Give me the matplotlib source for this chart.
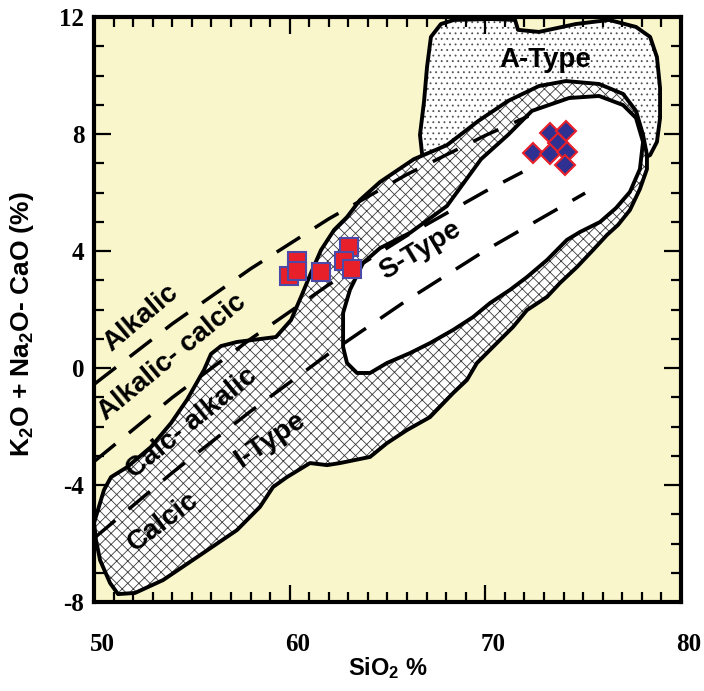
import numpy as np
import matplotlib
matplotlib.use('Agg')
import matplotlib.pyplot as plt
import matplotlib.transforms as mtransforms
from matplotlib.patches import Polygon
from matplotlib.ticker import MultipleLocator

# ---------------- data ----------------
# I-type field (cross-hatched envelope)
itype_x = [50.0, 50.51, 50.87, 51.69, 52.91, 53.94, 54.75, 55.62, 55.98, 56.49, 57.31, 59.30,
           60.07, 60.58, 61.09, 61.60, 62.27, 62.93, 63.59, 64.62, 66.35, 68.04, 69.63, 71.16,
           72.74, 74.12, 75.81, 77.04, 77.70, 78.06, 78.26, 78.26, 77.90, 77.39, 76.78, 76.22,
           75.50, 74.68, 73.82, 73.15, 72.13, 71.41, 70.39, 69.57, 69.06, 68.35, 67.17, 66.00,
           64.97, 64.11, 62.57, 61.91, 61.04, 59.86, 59.15, 58.48, 57.31, 55.57, 53.53, 52.10,
           51.23, 50.82, 50.31, 50.10]
itype_y = [-5.30, -4.17, -3.73, -3.39, -2.70, -1.88, -1.09, -0.07, 0.48, 0.75, 0.89, 1.06,
           1.64, 2.43, 3.25, 4.03, 4.72, 5.16, 5.74, 6.36, 7.14, 7.62, 8.44, 9.13,
           9.64, 9.81, 9.71, 9.37, 8.79, 7.97, 7.28, 6.80, 6.12, 5.40, 4.89, 4.55,
           4.03, 3.45, 2.91, 2.43, 1.98, 1.40, 0.72, 0.17, -0.41, -0.86, -1.68, -2.12,
           -2.57, -3.04, -3.25, -3.32, -3.25, -3.73, -4.07, -4.75, -5.54, -6.33, -7.25, -7.69,
           -7.73, -7.35, -6.57, -5.88]

# A-type field (dotted)
atype_x = [67.22, 67.73, 68.40, 70.29, 71.52, 71.67, 72.74, 74.63, 76.32, 77.70, 78.42, 78.77,
           78.93, 78.93, 78.77, 78.42, 77.90, 76.90, 71.80, 66.90, 66.87, 66.66, 66.87, 67.02]
atype_y = [11.32, 11.76, 11.90, 11.93, 11.90, 11.56, 11.49, 11.76, 11.90, 11.66, 11.32, 10.63,
           9.57, 8.55, 7.73, 7.28, 7.10, 7.45, 7.45, 6.60, 6.70, 7.97, 9.13, 10.29]

# S-type field (white)
stype_x = [63.75, 63.08, 62.73, 62.73, 62.93, 63.44, 64.11, 64.97, 66.15, 67.17, 68.35, 69.37,
           70.24, 71.26, 72.13, 73.15, 74.17, 74.84, 75.86, 76.68, 77.39, 77.90, 78.06, 77.70,
           77.04, 75.81, 74.28, 72.38, 71.16, 69.78, 68.04, 66.15, 64.62]
stype_y = [3.59, 2.67, 1.88, 0.72, 0.17, -0.17, -0.17, 0.17, 0.51, 0.85, 1.30, 1.74,
           2.22, 2.67, 3.11, 3.69, 4.38, 4.65, 4.99, 5.47, 6.02, 6.80, 7.73, 8.55,
           8.99, 9.30, 9.23, 8.79, 7.97, 7.14, 5.54, 4.62, 4.10]

# MALI boundaries (dashed)
alk_x = [50, 54, 58, 62, 66, 70, 72.2]
alk_y = [-0.56, 1.51, 3.39, 5.10, 6.62, 7.95, 8.61]
alkcal_x = [50, 54, 58, 62, 66, 70, 71.9]
alkcal_y = [-3.20, -1.01, 0.99, 2.85, 4.53, 6.04, 6.70]
calcalk_x = [50, 54, 58, 62, 66, 70, 75.1]
calcalk_y = [-5.82, -3.58, -1.48, 0.49, 2.32, 4.02, 5.98]

# samples
sq_x = [59.97, 60.38, 60.38, 61.60, 63.03, 62.78, 63.19]
sq_y = [3.14, 3.66, 3.32, 3.28, 4.14, 3.66, 3.38]
dm_x = [72.44, 73.30, 74.12, 73.71, 73.30, 74.17, 74.07]
dm_y = [7.35, 8.03, 8.10, 7.69, 7.32, 7.38, 6.94]

xticks = [50, 60, 70, 80]
yticks = [-8, -4, 0, 4, 8, 12]

# ---------------- figure ----------------
plt.rcParams['hatch.linewidth'] = 0.6
plt.rcParams['axes.unicode_minus'] = False
plt.rcParams['mathtext.fontset'] = 'custom'
plt.rcParams['mathtext.rm'] = 'Liberation Sans:bold'
plt.rcParams['mathtext.default'] = 'rm'

fig = plt.figure(figsize=(7.04, 6.91), dpi=100)
ax = fig.add_axes([94/704, 1-602/691, (681-94)/704, (602-17)/691])
ax.set_facecolor('#faf6cb')
ax.set_xlim(50, 80)
ax.set_ylim(-8, 12)

def field(xs, ys, face, hatch, hcol, z):
    pts = np.column_stack([xs, ys])
    ax.add_patch(Polygon(pts, closed=True, facecolor=face, edgecolor=hcol,
                         hatch=hatch, lw=0, zorder=z))
    ax.add_patch(Polygon(pts, closed=True, fill=False, edgecolor='black',
                         lw=2.8, joinstyle='round', zorder=z + 0.1))

field(atype_x, atype_y, 'white', '...', '#505050', 1)
field(itype_x, itype_y, 'white', 'xxx', '#3a3a3a', 2)
field(stype_x, stype_y, 'white', None, 'white', 3)

for xs, ys in [(alk_x, alk_y), (alkcal_x, alkcal_y), (calcalk_x, calcalk_y)]:
    ax.plot(xs, ys, color='black', lw=2.5, linestyle=(0, (8, 5)),
            dash_capstyle='butt', zorder=4)

lab = dict(fontfamily='Liberation Sans', fontweight='bold', fontsize=20,
           ha='center', va='center', zorder=5, rotation_mode='anchor')
ax.text(73.04, 10.53, 'A-Type', **lab)
ax.text(66.66, 4.03, 'S-Type', rotation=31, **lab)
ax.text(59.0, -2.46, 'I-Type', rotation=34, **lab)
ax.text(53.53, -5.27, 'Calcic', rotation=37, **lab)
ax.text(55.0, -1.88, 'Calc- alkalic', rotation=39, **lab)
ax.text(53.99, 0.38, 'Alkalic- calcic', rotation=39.5, **lab)
ax.text(52.40, 1.71, 'Alkalic', rotation=40, **lab)

ax.plot(sq_x, sq_y, 's', ms=13, mfc='#e8202a', mec='#4a4aa8', mew=1.5,
        linestyle='none', zorder=6)
ax.plot(dm_x, dm_y, 'D', ms=10, mfc='#2e3192', mec='#e8202a', mew=1.5,
        linestyle='none', zorder=6)

ax.set_xticks(xticks)
ax.set_yticks(yticks)
ax.xaxis.set_minor_locator(MultipleLocator(1))
ax.yaxis.set_minor_locator(MultipleLocator(1))
ax.tick_params(which='both', direction='in', top=True, right=True, width=1.6,
               colors='black')
ax.tick_params(which='major', length=12)
ax.tick_params(which='minor', length=7)
ax.tick_params(axis='x', which='major', pad=22)
ax.tick_params(axis='y', which='major', pad=7)
shift = mtransforms.ScaledTranslation(8/100, 0, fig.dpi_scale_trans)
for t in ax.get_xticklabels():
    t.set_transform(t.get_transform() + shift)
for t in ax.get_xticklabels() + ax.get_yticklabels():
    t.set_fontfamily('Liberation Serif')
    t.set_fontweight('bold')
    t.set_fontsize(18)
for s in ax.spines.values():
    s.set_linewidth(3)
    s.set_zorder(7)

ax.set_xlabel('SiO$_2$ %', fontfamily='Liberation Sans', fontweight='bold', fontsize=17)
ax.set_ylabel('K$_2$O + Na$_2$O- CaO (%)', fontfamily='Liberation Sans',
              fontweight='bold', fontsize=19)
ax.xaxis.set_label_coords(0.5, -(668-602)/585)
ax.yaxis.set_label_coords(-(94-22)/587, (602-324)/585)
ax.xaxis.label.set_va('center')
ax.yaxis.label.set_va('center')

fig.savefig('out.png', dpi=100, facecolor='white')
